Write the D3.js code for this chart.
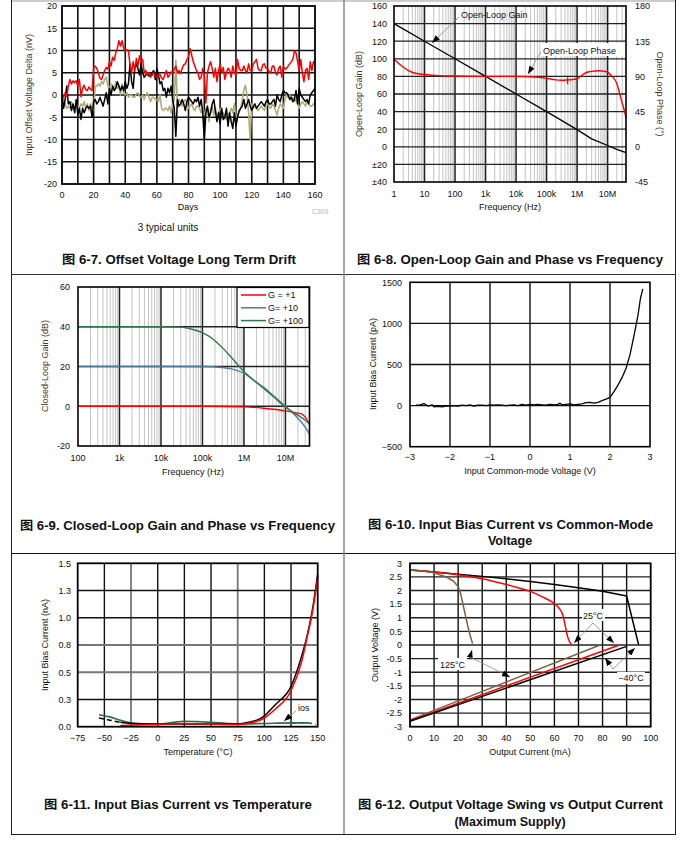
<!DOCTYPE html>
<html><head><meta charset="utf-8">
<script src="https://cdn.jsdelivr.net/npm/d3@7"></script>
<style>
body{margin:0;background:#fff}
svg text{font-family:"Liberation Sans",Arial,"Noto Sans CJK SC",sans-serif}
</style></head><body>
<svg id="c" width="687" height="852"></svg>
<script>
// ---------- Panel 6-7 data: offset voltage drift (nV) vs days ----------
const driftRed = [[0,0],[1,-0.5],[2,0.5],[3,-0.3],[4,2],[5,3.5],[6,2.5],[7,3.2],[8,2.8],[9,3.2],[10,2],[11,3.5],[12,-0.4],[13,1.5],[14,2.2],[15,1.2],[16,1],[17,1.8],[18,1.3],[19,1],[20,6],[21,6.5],[22,6],[23,5],[24,3.8],[25,3.5],[26,4.5],[27,5.5],[28,6.2],[29,5.8],[30,7.5],[31,6.5],[32,8.5],[33,7.8],[34,9.5],[35,10.5],[36,12.2],[37,11],[38,12.2],[39,10.5],[40,10],[41,10.2],[42,10],[43,6.8],[44,5],[45,7.5],[46,5.5],[47,8.2],[48,6.5],[49,8.8],[50,7.5],[51,8],[52,5],[53,5.5],[54,4.5],[55,5],[56,4],[57,4.5],[58,5],[59,4.2],[60,4],[61,4.5],[62,4.6],[63,3.8],[64,3.5],[65,4.5],[66,5.5],[67,4],[68,4.5],[69,5.2],[70,5],[71,5.8],[72,6.5],[73,5],[74,5.5],[75,4.8],[76,6],[77,6.8],[78,7],[79,8],[80,8.5],[81,10.4],[82,9],[83,7.5],[84,6.5],[85,5.5],[86,5],[87,3.5],[88,4],[89,6],[90,4.5],[91,-1.8],[92,5],[93,6.5],[94,7.5],[95,6],[96,4],[97,6],[98,3],[99,5.5],[100,7],[101,5],[102,6.2],[103,3.5],[104,5],[105,6],[106,5.5],[107,4],[108,6.5],[109,5],[110,4.5],[111,8],[112,6],[113,5.5],[114,5.5],[115,6.5],[116,5.5],[117,5],[118,7],[119,5.5],[120,5.5],[121,7],[122,7.5],[123,8],[124,6],[125,5.5],[126,5.5],[127,6.8],[128,7],[129,6],[130,6],[131,5.2],[132,5],[133,6.5],[134,6.5],[135,5],[136,4.5],[137,6],[138,6.5],[139,4],[140,6.5],[141,5.8],[142,6],[143,6.5],[144,7],[145,7.5],[146,8],[147,9.9],[148,9.5],[149,7.5],[150,5.5],[151,8],[152,5],[153,3],[154,5.5],[155,6],[156,3.5],[157,7.5],[158,5.5],[159,7.5],[160,6.5]];
const driftBlack = [[0,0],[1,-3],[2,-1],[3,2],[4,-2],[5,-1.5],[6,-3.5],[7,-2],[8,-4],[9,-1],[10,-4.5],[11,-3],[12,-5.5],[13,-3],[14,-4],[15,-3],[16,-2.5],[17,-3],[18,-2.5],[19,-5],[20,-1.5],[21,-1],[22,-2],[23,-1.5],[24,-0.5],[25,-1.5],[26,-2.5],[27,-1],[28,0.5],[29,-2],[30,1.5],[31,0],[32,2],[33,1],[34,1.5],[35,3],[36,2],[37,1],[38,2],[39,1],[40,3],[41,1.5],[42,2.5],[43,7],[44,3],[45,1.5],[46,6],[47,7],[48,6],[49,4.5],[50,7],[51,5],[52,4],[53,4.5],[54,5],[55,4.2],[56,4.5],[57,5],[58,5.5],[59,3.5],[60,6],[61,4.5],[62,2.5],[63,3],[64,1],[65,1.5],[66,-0.5],[67,1.5],[68,0.5],[69,2],[70,-1],[71,-3],[72,-9.3],[73,-1],[74,-2.5],[75,-2],[76,-1],[77,-2],[78,-3.5],[79,-1.5],[80,-0.5],[81,-1],[82,-1.5],[83,-2],[84,-1],[85,-1.5],[86,-0.5],[87,-2.5],[88,-1],[89,-4],[90,-10],[91,-4],[92,-2.5],[93,-5],[94,-4],[95,-2],[96,-1],[97,-3.5],[98,-6],[99,-4],[100,-6.5],[101,-3],[102,-5.5],[103,-5],[104,-3],[105,-7],[106,-4],[107,-6],[108,-7.5],[109,-4],[110,-7],[111,-5],[112,-3.5],[113,-3],[114,-2.5],[115,-1],[116,-3],[117,-2],[118,-1],[119,-2.5],[120,-3.5],[121,-2.5],[122,-2],[123,-3],[124,-2.5],[125,-2],[126,-1.5],[127,-2],[128,-2.5],[129,-1.5],[130,-1],[131,-2],[132,-2],[133,-1.5],[134,-1],[135,-2.5],[136,0],[137,-1],[138,-1.5],[139,0],[140,1],[141,0.5],[142,0.5],[143,0],[144,-1],[145,-0.5],[146,-1.5],[147,-1],[148,1],[149,-2],[150,1.5],[151,0],[152,-0.5],[153,-1],[154,-1.5],[155,-1],[156,-2],[157,0],[158,0.5],[159,1],[160,1.5]];
const driftOlive = [[0,0],[1,-1],[2,-2],[3,-3],[4,-2.5],[5,-3],[6,-1.5],[7,-2.5],[8,-3],[9,-2],[10,-2.5],[11,-3],[12,-2],[13,-2.5],[14,-1.5],[15,-3],[16,-2],[17,-3.5],[18,-2],[19,-3],[20,-3.5],[21,2],[22,2],[23,2.5],[24,2],[25,3],[26,2.5],[27,3.5],[28,4],[29,2],[30,1.5],[31,2.5],[32,2],[33,1],[34,3],[35,1.5],[36,2],[37,0],[38,2.5],[39,0.5],[40,0],[41,0.5],[42,-0.5],[43,0],[44,0],[45,-0.5],[46,-0.5],[47,0.3],[48,0.5],[49,-0.3],[50,-0.5],[51,0],[52,-1],[53,0],[54,0.5],[55,-0.5],[56,-1.5],[57,-0.5],[58,-0.5],[59,-1],[60,-1],[61,-1.5],[62,0],[63,-3],[64,-3.5],[65,-3],[66,-3],[67,-3.5],[68,-2.5],[69,-4],[70,-2],[71,-1],[72,7.8],[73,-3],[74,-1],[75,-1.5],[76,-2.5],[77,-1.5],[78,-1],[79,-2],[80,-3],[81,-2.5],[82,-2],[83,-3],[84,-3.5],[85,-2.5],[86,-2.5],[87,-3],[88,-4],[89,-3.5],[90,-4.5],[91,-3],[92,-3.5],[93,-6],[94,-3],[95,-2.5],[96,-4.5],[97,-3],[98,-5],[99,-4],[100,-3],[101,-4],[102,-4],[103,-5],[104,-5.5],[105,-4.5],[106,-4],[107,-3],[108,-4],[109,-2],[110,-5],[111,-4.5],[112,-4],[113,-3],[114,-1],[115,1],[116,2.2],[117,0],[118,-4],[119,-10],[120,-2],[121,-3],[122,-2.5],[123,-3],[124,-3.5],[125,-3],[126,-2.5],[127,-3],[128,-3.5],[129,-2.5],[130,-2],[131,-2.5],[132,-3],[133,-2],[134,-2.5],[135,-3.5],[136,-4.5],[137,-3],[138,-2],[139,-2.5],[140,-3],[141,-1],[142,0],[143,-0.5],[144,0],[145,-1],[146,-0.5],[147,-1.5],[148,-1],[149,-2],[150,-3],[151,-2],[152,-1.5],[153,-2],[154,-2.5],[155,-1.5],[156,-2],[157,-2.5],[158,-2.5],[159,-2],[160,-2]];
const driftXTicks = [0,20,40,60,80,100,120,140,160];
const driftYTicks = [-20,-15,-10,-5,0,5,10,15,20];

// ---------- Panel 6-8 data: open-loop gain / phase ----------
const olGain = [[1,140],[10,120],[100,100],[1e3,80],[1e4,60],[1e5,40],[1e6,19.5],[3e6,9],[1e7,1.5],[2e7,-3],[4e7,-6.7]];
const olPhase = [[1,112],[2,102],[3,97.5],[5,94],[10,92.5],[30,91],[100,90.5],[1e3,90],[1e4,90],[3e4,89.5],[1e5,87.5],[2e5,85.5],[3e5,85],[5e5,85.5],[7e5,86],[1e6,87],[1.5e6,92],[2e6,95],[3e6,96.5],[5e6,97.3],[8e6,96.5],[1e7,95.5],[1.4e7,90],[2e7,81],[2.8e7,60],[3.5e7,47],[4e7,37]];
const olPhaseMark = [[4.9e5,80],[4.9e5,89]];
const olFreqTicks = [1,10,100,1e3,1e4,1e5,1e6,1e7];
const olFreqLabels = ["1","10","100","1k","10k","100k","1M","10M"];
const olGainTicks = [160,140,120,100,80,60,40,20,0,-20,-40];
const olGainLabels = ["160","140","120","100","80","60","40","20","0","±20","±40"];
const olPhaseTicks = [180,135,90,45,0,-45];

// ---------- Panel 6-9 data: closed-loop gain ----------
const clG1 = [[100,0],[1e5,0],[1e6,-0.3],[3e6,-1],[1e7,-2.3],[2e7,-3.5],[2.5e7,-4],[3e7,-5.5],[3.8e7,-9]];
const clG10 = [[100,20],[1e5,20],[3e5,19.5],[5e5,18.8],[1e6,16.5],[2e6,12],[3e6,9.5],[5e6,5.5],[1e7,0],[2e7,-6],[3e7,-10.5],[3.8e7,-14]];
const clG100 = [[100,40],[1e4,40],[3e4,39.8],[5e4,39],[1e5,37],[2e5,33],[3e5,29.5],[5e5,24.5],[1e6,17.5],[2e6,12],[3e6,9],[5e6,5],[1e7,-0.5],[2e7,-4.5],[3e7,-7],[3.8e7,-9]];
const clFreqTicks = [100,1e3,1e4,1e5,1e6,1e7];
const clFreqLabels = ["100","1k","10k","100k","1M","10M"];
const clGainTicks = [-20,0,20,40,60];
const clLegend = ["G = +1","G= +10","G= +100"];

// ---------- Panel 6-10 data: Ib vs Vcm ----------
const ibVcm = [[-2.85,5],[-2.75,10],[-2.65,25],[-2.6,10],[-2.55,-5],[-2.45,10],[-2.4,-15],[-2.3,-10],[-2.2,-15],[-2.1,-5],[-2,-5],[-1.9,0],[-1.8,-5],[-1.7,5],[-1.6,0],[-1.5,10],[-1.4,-5],[-1.3,5],[-1.2,5],[-1.1,0],[-1,10],[-0.9,5],[-0.8,10],[-0.7,5],[-0.6,0],[-0.5,5],[-0.4,10],[-0.3,0],[-0.2,15],[-0.1,5],[0,15],[0.1,10],[0.2,15],[0.3,10],[0.4,5],[0.5,15],[0.6,10],[0.7,15],[0.75,30],[0.8,10],[0.9,15],[1.0,20],[1.1,10],[1.2,15],[1.3,20],[1.4,35],[1.5,40],[1.6,30],[1.7,40],[1.8,60],[1.9,80],[2.0,100],[2.1,170],[2.2,250],[2.3,340],[2.4,450],[2.5,620],[2.6,850],[2.7,1100],[2.76,1300],[2.82,1420]];
const vcmTicks = [-3,-2,-1,0,1,2,3];
const ibpaTicks = [-500,0,500,1000,1500];

// ---------- Panel 6-11 data: Ib vs temperature ----------
const ibTempBlack = [[-55,0.08],[-45,0.06],[-35,0.04],[-25,0.03],[-10,0.025],[0,0.025],[25,0.025],[50,0.025],[75,0.025],[85,0.04],[95,0.07],[100,0.1],[110,0.2],[125,0.37],[135,0.65],[140,0.83],[145,1.07],[150,1.4]];
const ibTempRed = [[-35,0.01],[-20,0.015],[0,0.02],[25,0.03],[50,0.025],[75,0.02],[90,0.04],[100,0.08],[110,0.16],[125,0.33],[135,0.6],[140,0.82],[145,1.05],[150,1.38]];
const iosTemp = [[-55,0.11],[-45,0.09],[-35,0.06],[-25,0.035],[-10,0.025],[0,0.025],[15,0.04],[25,0.05],[40,0.045],[50,0.04],[65,0.03],[75,0.025],[100,0.03],[125,0.035],[140,0.035],[148,0.02]];
const tempTicks = [-75,-50,-25,0,25,50,75,100,125,150];
const ibnaTicks = [0,0.25,0.5,0.75,1.0,1.25,1.5];
const ibnaLabels = ["0.0","0.3","0.5","0.8","1.0","1.3","1.5"];

// ---------- Panel 6-12 data: output swing ----------
const swingN40Src = [[0,2.75],[10,2.68],[20,2.6],[30,2.52],[40,2.43],[50,2.33],[60,2.22],[70,2.1],[80,1.97],[90,1.8],[95,0]];
const swingN40Snk = [[0,-2.8],[90,-0.05]];
const swing25Src = [[0,2.75],[10,2.68],[20,2.58],[30,2.43],[40,2.22],[45,2.1],[50,1.97],[55,1.77],[60,1.52],[62,1.35],[63.5,1.1],[64.5,0.7],[65.5,0.3],[67,0.02]];
const swing25Snk = [[0,-2.78],[87,0]];
const swing125Src = [[0,2.75],[5,2.72],[10,2.65],[15,2.5],[18,2.35],[20,2.15],[21,1.9],[22,1.5],[23,1.1],[24,0.7],[25,0.35],[26,0.05]];
const swing125Snk = [[0,-2.75],[79,0]];
const currTicks = [0,10,20,30,40,50,60,70,80,90,100];
const voutTicks = [3,2.5,2,1.5,1,0.5,0,-0.5,-1,-1.5,-2,-2.5,-3];

// ================= drawing =================
const svg = d3.select("#c");
const defs = svg.append("defs");
defs.append("marker").attr("id","arr").attr("viewBox","0 0 8 6").attr("refX",8).attr("refY",3)
  .attr("markerWidth",8).attr("markerHeight",6).attr("markerUnits","userSpaceOnUse").attr("orient","auto")
  .append("path").attr("d","M0,0L8,3L0,6Z").attr("fill","#000");

// page frame
const frame = svg.append("g");
frame.append("line").attr("x1",11).attr("x2",676).attr("y1",1).attr("y2",1).attr("stroke","#ccc").attr("stroke-width",2);
frame.append("line").attr("x1",11.5).attr("x2",11.5).attr("y1",0).attr("y2",834.5).attr("stroke","#222");
frame.append("line").attr("x1",675.5).attr("x2",675.5).attr("y1",0).attr("y2",834.5).attr("stroke","#222");
frame.append("line").attr("x1",11).attr("x2",676).attr("y1",834.5).attr("y2",834.5).attr("stroke","#222");
frame.append("line").attr("x1",11).attr("x2",676).attr("y1",274.5).attr("y2",274.5).attr("stroke","#333");
frame.append("line").attr("x1",11).attr("x2",676).attr("y1",553.5).attr("y2",553.5).attr("stroke","#111");
frame.append("line").attr("x1",344).attr("x2",344).attr("y1",0).attr("y2",834).attr("stroke","#888").attr("stroke-width",1.5);

const FS = 9;
function txt(g, x, y, s, o={}) {
  const t = g.append("text").attr("x",x).attr("y",y).text(s)
    .attr("font-size",o.size||FS).attr("fill",o.fill||"#111")
    .attr("text-anchor",o.anchor||"middle");
  if (o.bold) t.attr("font-weight","bold");
  if (o.rot) t.attr("transform",`rotate(${o.rot},${x},${y})`);
  if (o.len) t.attr("textLength",o.len).attr("lengthAdjust","spacingAndGlyphs");
  return t;
}
function vgrid(g, x, y, vals, color, w) {
  g.selectAll(null).data(vals).enter().append("line")
    .attr("x1",d=>x(d)).attr("x2",d=>x(d)).attr("y1",y.range()[0]).attr("y2",y.range()[1])
    .attr("stroke",color).attr("stroke-width",w);
}
function hgrid(g, x, y, vals, color, w) {
  g.selectAll(null).data(vals).enter().append("line")
    .attr("y1",d=>y(d)).attr("y2",d=>y(d)).attr("x1",x.range()[0]).attr("x2",x.range()[1])
    .attr("stroke",color).attr("stroke-width",w);
}
function frameRect(g, x, y, w) {
  const [x0,x1] = x.range(), [y0,y1] = y.range();
  g.append("rect").attr("x",x0).attr("y",y1).attr("width",x1-x0).attr("height",y0-y1)
    .attr("fill","none").attr("stroke","#000").attr("stroke-width",w||1.5);
}
function path(g, data, x, y, color, w, dash) {
  const p = g.append("path").datum(data).attr("fill","none").attr("stroke",color).attr("stroke-width",w)
    .attr("stroke-linejoin","round")
    .attr("d", d3.line().x(d=>x(d[0])).y(d=>y(d[1])));
  if (dash) p.attr("stroke-dasharray",dash);
  return p;
}
function spline(g, data, x, y, color, w, dash) {
  const p = g.append("path").datum(data).attr("fill","none").attr("stroke",color).attr("stroke-width",w)
    .attr("d", d3.line().curve(d3.curveMonotoneX).x(d=>x(d[0])).y(d=>y(d[1])));
  if (dash) p.attr("stroke-dasharray",dash);
  return p;
}
function minorLog(lo, hi) {
  const out = [];
  for (let k = Math.floor(Math.log10(lo)); k <= Math.ceil(Math.log10(hi)); k++)
    for (let m = 2; m <= 9; m++) { const f = m*Math.pow(10,k); if (f>lo && f<hi) out.push(f); }
  return out;
}
const TITLE = "#4a3526";

// ---------- Panel 1 ----------
{
  const g = svg.append("g");
  const x = d3.scaleLinear([0,160],[62,315]);
  const y = d3.scaleLinear([-20,20],[184,6]);
  vgrid(g,x,y,d3.range(10,160,10),"#111",1.6);
  hgrid(g,x,y,d3.range(-15,20,5),"#111",1.6);
  path(g,driftOlive,x,y,"#b0ab7a",1.6);
  path(g,driftBlack,x,y,"#000",1.5);
  path(g,driftRed,x,y,"#ff0000",1.5);
  frameRect(g,x,y,1.8);
  driftYTicks.forEach(v=>txt(g,57,y(v)+3.3,String(v),{anchor:"end"}));
  driftXTicks.forEach(v=>txt(g,x(v),198,String(v)));
  txt(g,32,95,"Input Offset Voltage Delta (nV)",{rot:-90,fill:TITLE});
  txt(g,188,210,"Days");
  txt(g,320,214,"C309",{size:7,fill:"#bbb"});
  txt(g,168,231,"3 typical units",{size:10});
  txt(g,62,264,"图 6-7. Offset Voltage Long Term Drift",{size:12.5,bold:true,anchor:"start",len:234});
}

// ---------- Panel 2 ----------
{
  const g = svg.append("g");
  const x = d3.scaleLog([1,4e7],[394,626]);
  const y = d3.scaleLinear([-40,160],[182,6]);
  const yp = d3.scaleLinear([-45,180],[182,6]);
  vgrid(g,x,y,minorLog(1,4e7),"#b5b5b5",0.8);
  vgrid(g,x,y,olFreqTicks.slice(1),"#222",1.5);
  hgrid(g,x,y,olGainTicks.slice(1,-1),"#222",1.3);
  path(g,olGain,x,y,"#000",1.3);
  spline(g,olPhase,x,yp,"#ff0000",1.4);
  path(g,olPhaseMark,x,yp,"#ff0000",1.3);
  frameRect(g,x,y,1.6);
  olGainTicks.forEach((v,i)=>txt(g,387,y(v)+3.3,olGainLabels[i],{anchor:"end"}));
  olPhaseTicks.forEach(v=>txt(g,635,yp(v)+3.3,String(v),{anchor:"start"}));
  olFreqTicks.forEach((v,i)=>txt(g,x(v),197,olFreqLabels[i]));
  txt(g,362,94,"Open-Loop Gain (dB)",{rot:-90,fill:TITLE});
  txt(g,657,94,"Open-Loop Phase (°)",{rot:90,fill:TITLE});
  txt(g,510,210,"Frequency (Hz)");
  // annotations
  g.append("line").attr("x1",459).attr("y1",17).attr("x2",432).attr("y2",43).attr("stroke","#888").attr("stroke-width",0.8).attr("marker-end","url(#arr)");
  txt(g,461,18,"Open-Loop Gain",{anchor:"start"});
  g.append("line").attr("x1",542).attr("y1",50).attr("x2",528).attr("y2",74).attr("stroke","#888").attr("stroke-width",0.8).attr("marker-end","url(#arr)");
  g.append("rect").attr("x",541).attr("y",43).attr("width",82).attr("height",13).attr("fill","#fff");
  txt(g,543,53.5,"Open-Loop Phase",{anchor:"start"});
  txt(g,357,264,"图 6-8. Open-Loop Gain and Phase vs Frequency",{size:12.5,bold:true,anchor:"start",len:306});
}

// ---------- Panel 3 ----------
{
  const g = svg.append("g");
  const x = d3.scaleLog([100,3.8e7],[78,309.5]);
  const y = d3.scaleLinear([-20,60],[446,287]);
  vgrid(g,x,y,minorLog(100,3.8e7),"#b5b5b5",0.8);
  vgrid(g,x,y,clFreqTicks.slice(1),"#222",1.5);
  hgrid(g,x,y,[0,20,40],"#222",1.3);
  spline(g,clG1,x,y,"#ff0000",1.3);
  spline(g,clG10,x,y,"#4a7d9c",1.4);
  spline(g,clG100,x,y,"#2e7a4e",1.4);
  frameRect(g,x,y,1.6);
  clGainTicks.forEach(v=>txt(g,70,y(v)+3.3,String(v),{anchor:"end"}));
  clFreqTicks.forEach((v,i)=>txt(g,x(v),461,clFreqLabels[i]));
  txt(g,48,366,"Closed-Loop Gain (dB)",{rot:-90,fill:TITLE});
  txt(g,193,475,"Frequency (Hz)");
  // legend
  const lg = g.append("g");
  lg.append("rect").attr("x",237).attr("y",287.5).attr("width",72).attr("height",40).attr("fill","#fff").attr("stroke","#000").attr("stroke-width",1.2);
  const lc = ["#ff0000","#4a7d9c","#2e7a4e"];
  clLegend.forEach((s,i)=>{
    const yy = 295+i*12.8;
    lg.append("line").attr("x1",241).attr("x2",266).attr("y1",yy).attr("y2",yy).attr("stroke",lc[i]).attr("stroke-width",1.5);
    txt(lg,268,yy+3.3,s,{anchor:"start"});
  });
  txt(g,20,530,"图 6-9. Closed-Loop Gain and Phase vs Frequency",{size:12.5,bold:true,anchor:"start",len:315});
}

// ---------- Panel 4 ----------
{
  const g = svg.append("g");
  const x = d3.scaleLinear([-3,3],[410,650]);
  const y = d3.scaleLinear([-500,1500],[446.7,282.3]);
  vgrid(g,x,y,vcmTicks.slice(1,-1),"#111",1.4);
  hgrid(g,x,y,ibpaTicks.slice(1,-1),"#111",1.4);
  path(g,ibVcm,x,y,"#000",1.3);
  frameRect(g,x,y,1.6);
  ibpaTicks.forEach(v=>txt(g,402,y(v)+3.3,v<0?"−"+Math.abs(v):String(v),{anchor:"end"}));
  vcmTicks.forEach(v=>txt(g,x(v),460,v<0?"−"+Math.abs(v):String(v)));
  txt(g,376,364,"Input Bias Current (pA)",{rot:-90});
  txt(g,530,474,"Input Common-mode Voltage (V)");
  txt(g,368,529,"图 6-10. Input Bias Current vs Common-Mode",{size:12.5,bold:true,anchor:"start",len:285});
  txt(g,510,545,"Voltage",{size:12.5,bold:true});
}

// ---------- Panel 5 ----------
{
  const g = svg.append("g");
  const x = d3.scaleLinear([-75,150],[77.7,317.7]);
  const y = d3.scaleLinear([0,1.5],[726.7,563.3]);
  vgrid(g,x,y,[-50,0,25,50,100,125],"#111",1.4);
  vgrid(g,x,y,[-25,75],"#777",1.8);
  hgrid(g,x,y,[0.25,1.0,1.25],"#111",1.4);
  hgrid(g,x,y,[0.5,0.75],"#777",1.8);
  spline(g,iosTemp.filter(d=>d[0]<=140),x,y,"#2f6b44",1.6);
  spline(g,iosTemp.filter(d=>d[0]>=125),x,y,"#2f6b44",1.6,"5,3");
  spline(g,ibTempBlack.filter(d=>d[0]<=-35),x,y,"#000",1.5,"5,3");
  spline(g,ibTempBlack.filter(d=>d[0]>=-35),x,y,"#000",1.5);
  spline(g,ibTempRed,x,y,"#ff0000",1.6);
  frameRect(g,x,y,1.8);
  ibnaTicks.forEach((v,i)=>txt(g,71,y(v)+3.3,ibnaLabels[i],{anchor:"end"}));
  tempTicks.forEach(v=>txt(g,x(v),741,v<0?"−"+Math.abs(v):String(v)));
  txt(g,48,645,"Input Bias Current (nA)",{rot:-90});
  txt(g,198,755,"Temperature (°C)");
  g.append("line").attr("x1",296).attr("y1",711).attr("x2",284).attr("y2",721).attr("stroke","#888").attr("stroke-width",0.8).attr("marker-end","url(#arr)");
  txt(g,298,711,"ios",{anchor:"start"});
  txt(g,44,809,"图 6-11. Input Bias Current vs Temperature",{size:12.5,bold:true,anchor:"start",len:268});
}

// ---------- Panel 6 ----------
{
  const g = svg.append("g");
  const x = d3.scaleLinear([0,100],[410,650.7]);
  const y = d3.scaleLinear([-3,3],[726.7,563.3]);
  vgrid(g,x,y,currTicks.slice(1,-1),"#111",1.4);
  hgrid(g,x,y,voutTicks.slice(1,-1),"#222",1.4);
  path(g,swing125Snk,x,y,"#7d5f3f",1.5);
  path(g,swing25Snk,x,y,"#ff0000",1.5);
  path(g,swingN40Snk,x,y,"#000",1.5);
  path(g,swingN40Src,x,y,"#000",1.5);
  spline(g,swing25Src,x,y,"#ff0000",1.5);
  path(g,swing125Src,x,y,"#7d5f3f",1.5);
  frameRect(g,x,y,1.8);
  voutTicks.forEach(v=>txt(g,402,y(v)+3.3,String(v),{anchor:"end"}));
  currTicks.forEach(v=>txt(g,x(v),741,String(v)));
  txt(g,378,645,"Output Voltage (V)",{rot:-90});
  txt(g,530,755,"Output Current (mA)");
  const al = (x1,y1,x2,y2)=>g.append("line").attr("x1",x1).attr("y1",y1).attr("x2",x2).attr("y2",y2).attr("stroke","#888").attr("stroke-width",0.8).attr("marker-end","url(#arr)");
  al(593,623,574,643); al(593,623,614,643);
  g.append("rect").attr("x",582).attr("y",609).attr("width",23).attr("height",12).attr("fill","#fff");
  txt(g,593,618.5,"25°C");
  al(470,657,472,650); al(470,657,510,677);
  g.append("rect").attr("x",438).attr("y",658).attr("width",29).attr("height",12).attr("fill","#fff");
  txt(g,452.5,668,"125°C");
  al(613,669,605,658); al(613,669,635,648);
  g.append("rect").attr("x",617).attr("y",672).attr("width",28).attr("height",12).attr("fill","#fff");
  txt(g,631,681,"−40°C");
  txt(g,358,809,"图 6-12. Output Voltage Swing vs Output Current",{size:12.5,bold:true,anchor:"start",len:305});
  txt(g,510,826,"(Maximum Supply)",{size:12.5,bold:true});
}
</script>
</body></html>
